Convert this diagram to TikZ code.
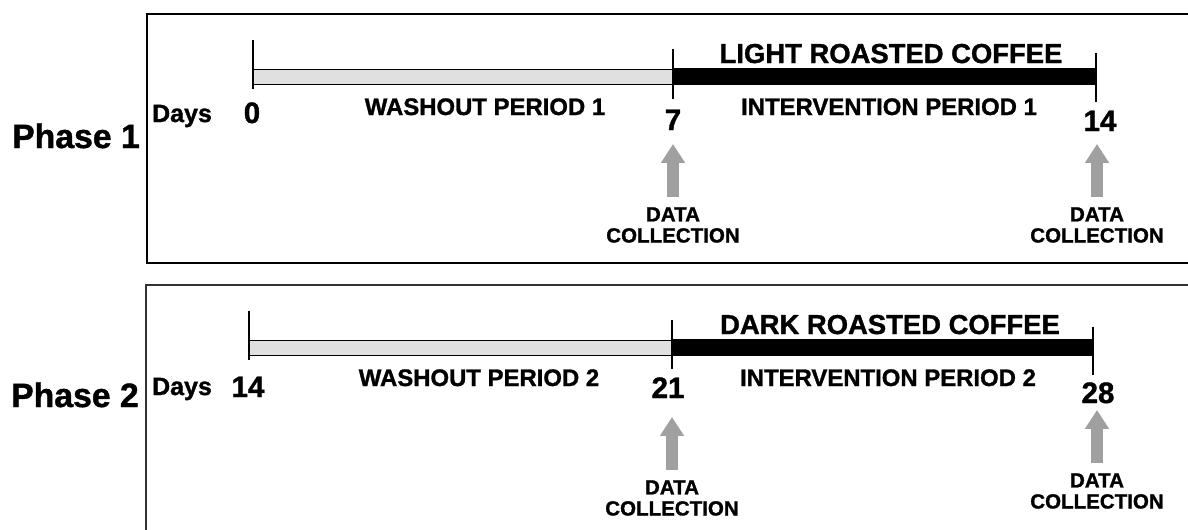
\documentclass[tikz,border=0pt]{standalone}
\usepackage{fontspec}
\setmainfont{Liberation Sans}[BoldFeatures={FakeBold=1.2}]
\usetikzlibrary{arrows.meta}

\definecolor{bargray}{RGB}{224,224,224}
\definecolor{arrowgray}{RGB}{160,160,160}
\definecolor{framegray}{RGB}{50,50,50}

\tikzset{
  phaselabel/.style={font=\bfseries\fontsize{24}{28}\selectfont, anchor=base, inner sep=0pt},
  dayslabel/.style={font=\bfseries\fontsize{17.8}{20}\selectfont, anchor=base, inner sep=0pt},
  daynum/.style={font=\bfseries\fontsize{21}{24}\selectfont, anchor=base, inner sep=0pt},
  period/.style={font=\bfseries\fontsize{17}{20}\selectfont, anchor=base, inner sep=0pt},
  coffee/.style={font=\bfseries\fontsize{19.5}{22}\selectfont, anchor=base, inner sep=0pt},
  collect/.style={font=\bfseries\fontsize{14.6}{15}\selectfont, align=center, anchor=north, inner sep=0pt},
  tickline/.style={line width=1.9pt},
  washout/.style={fill=bargray, draw=black, line width=0.6pt},
  intervention/.style={fill=black},
  dataarrow/.style={draw=arrowgray, line width=9.2pt, -{Triangle[width=16.4pt,length=13.5pt]}, shorten <=7.1pt}
}

\begin{document}
\begin{tikzpicture}[x=0.025cm, y=-0.025cm]
            \clip (0,0) rectangle (1188,529);
            \fill[white] (0,0) rectangle (1188,529);

            % Phase 1 frame
            \draw[line width=1pt] (147,14) rectangle (1200,263);
            \node[phaselabel] (p1) at (76,148) {Phase 1};

            % Phase 1 bars and ticks
            \coordinate (t0) at (253,76);
            \coordinate (t7) at (673,76);
            \coordinate (t14) at (1096,76);
            \path[washout] (253,69) rectangle (673,84);
            \path[intervention] (673,68) rectangle (1096,85);
            \draw[tickline] (253,40) -- (253,89);
            \draw[tickline] (673,49) -- (673,99);
            \draw[tickline] (1096,53) -- (1096,102);

            % Phase 1 labels
            \node[dayslabel] (days1) at (182,122) {Days};
            \node[daynum] (n0) at (252,123) {0};
            \node[daynum] (n7) at (673,130) {7};
            \node[daynum] (n14) at (1100,131) {14};
            \node[period] (wash1) at (485,115) {WASHOUT PERIOD 1};
            \node[period] (int1) at (889,115) {INTERVENTION PERIOD 1};
            \node[coffee] (light) at (891,63) {LIGHT ROASTED COFFEE};
            \node[collect] (dc1) at (673,207) {DATA\\COLLECTION};
            \node[collect] (dc2) at (1097,207) {DATA\\COLLECTION};

            % Phase 1 arrows
            \coordinate (tip7) at (673,144);
            \coordinate (tip14) at (1097,144);
            \draw[dataarrow] (dc1.north) -- (tip7);
            \draw[dataarrow] (dc2.north) -- (tip14);

            % Phase 2 frame
            \draw[line width=1pt, draw=framegray] (146,285) rectangle (1200,545);
            \node[phaselabel] (p2) at (75,407) {Phase 2};

            % Phase 2 bars and ticks
            \coordinate (t14b) at (249,347);
            \coordinate (t21) at (672,347);
            \coordinate (t28) at (1093,347);
            \path[washout] (249,340) rectangle (672,355);
            \path[intervention] (672,339) rectangle (1093,356);
            \draw[tickline] (249,311) -- (249,360);
            \draw[tickline] (672,320) -- (672,369);
            \draw[tickline] (1093,327) -- (1093,375);

            % Phase 2 labels
            \node[dayslabel] (days2) at (182,395) {Days};
            \node[daynum] (n14b) at (248,397) {14};
            \node[daynum] (n21) at (668,398) {21};
            \node[daynum] (n28) at (1098,403) {28};
            \node[period] (wash2) at (479,386) {WASHOUT PERIOD 2};
            \node[period] (int2) at (888,386) {INTERVENTION PERIOD 2};
            \node[coffee] (dark) at (890,334) {DARK ROASTED COFFEE};
            \node[collect] (dc3) at (672,480) {DATA\\COLLECTION};
            \node[collect] (dc4) at (1097,473) {DATA\\COLLECTION};

            % Phase 2 arrows
            \coordinate (tip21) at (672,417);
            \coordinate (tip28) at (1097,410);
            \draw[dataarrow] (dc3.north) -- (tip21);
            \draw[dataarrow] (dc4.north) -- (tip28);

        \end{tikzpicture}
\end{document}
